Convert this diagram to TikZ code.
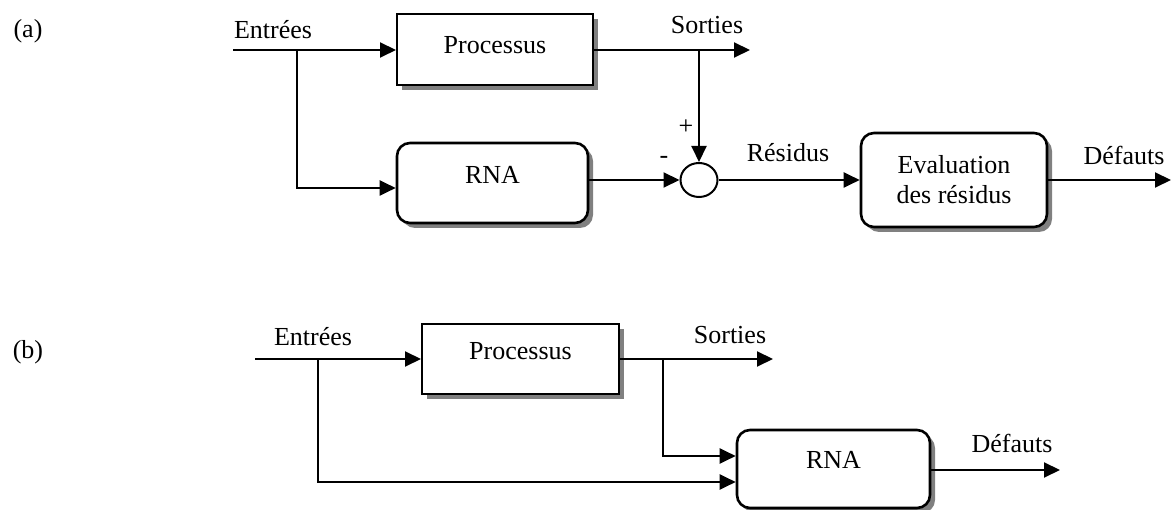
\documentclass[tikz,border=0pt]{standalone}
\usepackage{fontspec}
\setmainfont{Liberation Serif}
\usetikzlibrary{arrows.meta,shapes.geometric,shadows}
\begin{document}
\begin{tikzpicture}[x=1pt,y=-1pt,
  font=\fontsize{26}{30}\selectfont,
  wire/.style={line width=2pt},
  flow/.style={wire,-{Triangle[length=16pt,width=15pt]}},
  shade/.style={drop shadow={shadow xshift=5pt,shadow yshift=-5pt,fill=black!50,opacity=1}},
  procbox/.style={draw,line width=2pt,fill=white,shade,inner sep=0pt,align=center},
  roundbox/.style={procbox,line width=2.6pt,rounded corners=13pt},
  lbl/.style={inner sep=0pt,anchor=center},
]
\useasboundingbox (0,0) rectangle (1171,510);

% ---------- (a) residual generation scheme ----------
\node[lbl] (tagA) at (28,31) {(a)};
\node[procbox,minimum width=196pt,minimum height=71pt,text depth=10pt] (procA) at (495,50) {Processus};
\node[roundbox,minimum width=191pt,minimum height=80pt,text depth=16pt] (rnaA) at (492.5,183) {RNA};
\node[draw,ellipse,line width=2pt,minimum width=37pt,minimum height=34pt,inner sep=0pt] (sum) at (699,180) {};
\node[roundbox,minimum width=186pt,minimum height=94pt] (evalA) at (954,180) {Evaluation\\des résidus};

\coordinate (inA) at (233,50);
\coordinate (brA) at (297,50);
\coordinate (outA) at (750,50);
\coordinate (tapA) at (699,50);
\coordinate (defA) at (1171,180);

\node[lbl] (entA) at (273,30) {Entrées};
\node[lbl] (sorA) at (707,25) {Sorties};
\node[lbl] (plus) at (686,127) {+};
\node[lbl] (minus) at (664,160) {-};
\node[lbl] (resA) at (788,153) {Résidus};
\node[lbl] (dfA) at (1124,155) {Défauts};

\draw[flow] (inA) -- (procA.west);
\draw[flow] (brA) |- ([yshift=-5pt]rnaA.west);
\draw[flow] (procA.east) -- (outA);
\draw[flow] (tapA) -- (sum.north);
\draw[flow] (rnaA.east |- sum.west) -- (sum.west);
\draw[flow] (sum.east) -- (evalA.west);
\draw[flow] (evalA.east) -- (defA);

% ---------- (b) direct diagnosis scheme ----------
\node[lbl] (tagB) at (28,352) {(b)};
\node[procbox,minimum width=197pt,minimum height=70pt,text depth=16pt] (procB) at (520.5,359) {Processus};
\node[roundbox,minimum width=193pt,minimum height=78pt,text depth=18pt] (rnaB) at (833.5,469) {RNA};

\coordinate (inB) at (255,359);
\coordinate (brB) at (318,359);
\coordinate (outB) at (773,359);
\coordinate (tapB) at (663,359);
\coordinate (defB) at (1060,470);

\node[lbl] (entB) at (313,337) {Entrées};
\node[lbl] (sorB) at (730,335) {Sorties};
\node[lbl] (dfB) at (1012,443) {Défauts};

\draw[flow] (inB) -- (procB.west);
\draw[flow] (procB.east) -- (outB);
\draw[flow] (tapB) |- ([yshift=13pt]rnaB.west);
\draw[flow] (brB) |- ([yshift=-13pt]rnaB.west);
\draw[flow] (rnaB.east |- defB) -- (defB);
\end{tikzpicture}
\end{document}
